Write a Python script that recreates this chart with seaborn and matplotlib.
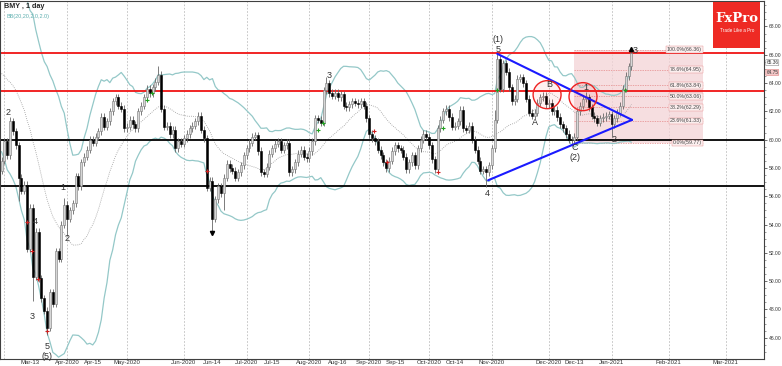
import numpy as np
import pandas as pd
import matplotlib
matplotlib.use("Agg")
import matplotlib.pyplot as plt
import matplotlib.transforms as mtransforms
from matplotlib.patches import Ellipse, Rectangle
import seaborn as sns

# Chart data (daily BMY candles)
symbol = "BMY"
timeframe = "1 day"
first_day = "2020-02-28"
last_axis_day = "2021-03-31"
market_holidays = ["2020-04-10", "2020-05-25", "2020-07-03", "2020-09-07",
                   "2020-11-26", "2020-12-25", "2021-01-01"]

# closes of the weeks before the first visible bar (only feed the bands)
warmup_closes = [63.5, 64.0, 64.8, 65.5, 66.0, 65.8, 66.3, 66.8, 67.0, 67.5,
                 67.3, 67.8, 67.2, 66.5, 65.0, 63.0, 61.5, 60.0, 59.5]

first_open = 57.8
closes = [
    58.5, 59.9, 58.9, 61.3, 60.6, 59.6, 57.3, 56.4, 56.8, 52.3,
    55.2, 50.3, 53.5, 50.2, 48.8, 47.9, 46.7, 49.2, 48.4, 52.1,
    51.6, 54.0, 55.4, 54.4, 55.0, 55.5, 57.4, 56.7, 58.4, 58.8,
    59.3, 60.0, 59.8, 60.2, 60.6, 61.6, 60.9, 61.3, 62.0, 62.7,
    63.0, 62.4, 62.2, 60.8, 60.9, 61.4, 61.1, 60.8, 62.0, 62.4,
    63.0, 63.6, 63.3, 63.7, 64.1, 64.6, 62.2, 60.9, 61.0, 60.4,
    60.7, 59.4, 59.9, 59.7, 60.1, 60.4, 60.8, 61.0, 61.3, 61.7,
    60.7, 60.1, 56.6, 57.1, 54.4, 55.8, 56.7, 56.2, 57.3, 58.3,
    58.0, 57.8, 57.3, 57.7, 58.2, 58.9, 59.4, 59.8, 60.2, 60.3,
    59.2, 57.7, 57.6, 58.1, 59.0, 59.4, 59.7, 59.9, 59.3, 59.6,
    59.8, 57.7, 57.9, 58.4, 59.0, 59.3, 58.8, 58.7, 59.2, 59.9,
    61.5, 61.4, 61.2, 63.5, 64.0, 63.3, 63.1, 63.3, 63.0, 63.2,
    62.4, 62.3, 62.5, 62.7, 62.6, 62.5, 62.7, 62.4, 61.5, 60.4,
    60.1, 59.9, 59.3, 58.9, 58.4, 58.0, 58.5, 59.2, 59.6, 59.4,
    59.3, 58.8, 57.9, 58.4, 58.9, 58.2, 59.4, 60.0, 60.4, 60.2,
    59.6, 58.6, 57.9, 60.8, 61.4, 62.0, 62.2, 61.6, 60.9, 61.0,
    61.3, 62.1, 60.8, 60.7, 61.0, 60.0, 59.3, 58.5, 57.8, 57.9,
    57.7, 58.2, 59.4, 61.4, 65.7, 63.6, 65.4, 64.8, 63.7, 62.7,
    62.9, 64.3, 64.4, 64.0, 62.9, 61.9, 61.7, 61.9, 62.6, 63.0,
    63.1, 62.5, 62.6, 62.0, 62.1, 61.6, 61.1, 60.8, 60.4, 60.0,
    59.95, 60.2, 62.0, 62.4, 62.9, 63.0, 62.3, 61.7, 61.5, 61.2,
    61.5, 61.6, 61.7, 61.8, 61.1, 61.5, 61.9, 62.4, 63.6, 64.5,
    65.2, 66.1,
]
high_marks = {3: 61.6, 22: 55.9, 55: 65.2, 114: 64.4, 161: 62.4, 173: 62.1,
              174: 66.05, 190: 63.4, 205: 63.4, 221: 66.36}
low_marks = {6: 55.7, 11: 48.6, 16: 46.2, 23: 53.2, 74: 53.5, 78: 55.0,
             170: 56.65, 201: 59.77, 214: 60.2}

# horizontal levels
resistance_levels = [66.1, 63.45]
support_levels = [60.0, 56.7]

# triangle (bar index, price)
triangle_upper = [(173.9, 66.07), (221.2, 61.4)]
triangle_lower = [(170.7, 57.13), (221.2, 61.4)]

# circled areas (bar index, price)
circle_centres = [(191.4, 63.18), (204.0, 63.04)]

# fibonacci retracement
fib_low, fib_high = 59.77, 66.36
fib_ratios = [0.0, 23.6, 38.2, 50.0, 61.8, 78.6, 100.0]
fib_span = (201, 246)

# wave labels (text, bar index, price)
wave_labels = [("2", 2.3, 61.9), ("4", 11.8, 54.2), ("3", 10.7, 47.5),
               ("5", 16.0, 45.4), ("(5)", 16.0, 44.7), ("1", 21.6, 56.6),
               ("2", 23.0, 53.0), ("3", 114.9, 64.5), ("(1)", 174.2, 67.1),
               ("5", 174.2, 66.4), ("4", 170.4, 56.2), ("A", 187.2, 61.2),
               ("B", 192.2, 63.9), ("C", 201.2, 59.45), ("(2)", 201.2, 58.75),
               ("1", 205.1, 63.7), ("2", 215.0, 60.0), ("3", 222.3, 66.3)]

red_fractals = [(8.9, 54.2), (10.7, 52.1), (12.8, 50.15), (16.0, 46.5),
                (72.0, 57.8), (130.7, 60.6), (135.3, 58.4), (153.0, 57.7)]
green_fractals = [(51.0, 62.8), (52.8, 63.3), (111.0, 60.7), (112.8, 61.2),
                  (155.0, 60.8), (174.0, 63.5), (218.8, 63.5)]

month_starts = ["2020-04-01", "2020-05-01", "2020-06-01", "2020-07-01",
                "2020-08-01", "2020-09-01", "2020-10-01", "2020-11-01",
                "2020-12-01", "2021-01-01", "2021-02-01", "2021-03-01"]
mid_month_days = ["2020-03-13", "2020-04-15", "2020-06-14", "2020-07-15",
                  "2020-08-16", "2020-09-15", "2020-10-14", "2020-12-13"]

bid_price, ask_label = 65.44, "65.36"
last_price = 64.75

# ------------------------------------------------------------------
n = len(closes)
x = np.arange(n)
c = np.array(closes)
o = np.array([first_open] + closes[:-1])
wick = 0.25
h = np.maximum(o, c) + wick
l = np.minimum(o, c) - wick
for k, v in high_marks.items():
    h[k] = v
for k, v in low_marks.items():
    l[k] = v

s = pd.Series(warmup_closes + closes)
mid = s.rolling(20).mean().to_numpy()[-n:]
sd = s.rolling(20).std(ddof=0).to_numpy()[-n:]
bands = pd.DataFrame({"bar": x, "upper": mid + 2 * sd, "mid": mid, "lower": mid - 2 * sd})

cal = pd.bdate_range(first_day, last_axis_day, freq="C", holidays=market_holidays)
def pos(day):
    return int(cal.searchsorted(pd.Timestamp(day)))

sns.set_style("white")
plt.rcParams["font.family"] = ["Liberation Sans", "DejaVu Sans"]

fig = plt.figure(figsize=(7.82, 3.66), dpi=100)
ax = fig.add_axes([0.0, 7 / 366, 764 / 782, 358 / 366])
ax.set_xlim(-0.53, 267.5)
ax.set_ylim(44.5, 69.8)

# month grid
for d in ["2020-03-01"] + month_starts:
    ax.axvline(pos(d), color="#bdbdbd", lw=0.6, ls=(0, (2, 2)), zorder=0)

# fibonacci box
fx0, fx1 = fib_span
ax.add_patch(Rectangle((fx0, fib_low), fx1 - fx0, fib_high - fib_low,
                       facecolor="#f4d3d6", edgecolor="none", alpha=0.75, zorder=0.5))
for r in fib_ratios:
    lvl = fib_low + (fib_high - fib_low) * r / 100
    ax.plot([fx0, fx1], [lvl, lvl], color="#e58a8a", lw=0.5, ls=(0, (2, 1.5)), zorder=1)
    ax.text(fx1 - 0.3, lvl, f"{r:.1f}%({lvl:.2f})", fontsize=3.8, color="#444444",
            ha="right", va="center", zorder=6,
            bbox=dict(boxstyle="square,pad=0.15", fc="#fbeeee", ec="#e58a8a", lw=0.3))

# bollinger bands
sns.lineplot(data=bands, x="bar", y="upper", color="#94c8c8", lw=0.9, ax=ax, zorder=2)
sns.lineplot(data=bands, x="bar", y="lower", color="#94c8c8", lw=0.9, ax=ax, zorder=2)
sns.lineplot(data=bands, x="bar", y="mid", color="#9a9a9a", lw=0.6, ls=(0, (1, 1.5)), ax=ax, zorder=2)

# levels
for lv in resistance_levels:
    ax.axhline(lv, color="#f01414", lw=1.3, zorder=2.5)
for lv in support_levels:
    ax.axhline(lv, color="black", lw=1.3, zorder=2.5)

# candles
up = c >= o
ax.vlines(x, l, h, color="#666666", lw=0.6, zorder=3)
ax.bar(x[up], np.maximum(c - o, 0.04)[up], bottom=o[up], width=0.7,
       color="#d6d6d6", edgecolor="#777777", linewidth=0.4, zorder=4)
ax.bar(x[~up], (o - c)[~up], bottom=c[~up], width=0.7,
       color="black", edgecolor="black", linewidth=0.4, zorder=4)
ax.plot([74], [l[74] - 0.1], marker="v", color="black", ms=3, zorder=5)
ax.plot([221], [h[221] + 0.05], marker="^", color="black", ms=3, zorder=5)

rf = np.array(red_fractals)
gf = np.array(green_fractals)
ax.plot(rf[:, 0], rf[:, 1], ls="none", marker="+", color="#d02020", ms=3, mew=0.8, zorder=5)
ax.plot(gf[:, 0], gf[:, 1], ls="none", marker="+", color="#20a020", ms=3, mew=0.8, zorder=5)

# triangle and circles
for pts in (triangle_upper, triangle_lower):
    px, py = zip(*pts)
    ax.plot(px, py, color="#1a1aff", lw=1.5, zorder=5)
for cx, cy in circle_centres:
    ax.add_patch(Ellipse((cx, cy), 9.8, 1.98, facecolor=(1, 0, 0, 0.06),
                         edgecolor="#ee2222", lw=1.0, zorder=5))

for t, bx, py in wave_labels:
    ax.text(bx, py, t, fontsize=6.5, color="#333333", ha="center", va="center", zorder=6)

# axes cosmetics
ax.yaxis.tick_right()
ax.set_yticks(np.arange(46, 69, 2))
ax.set_yticks(np.arange(45, 69.6, 0.5), minor=True)
ax.yaxis.set_major_formatter(matplotlib.ticker.FormatStrFormatter("%.2f"))
ax.tick_params(axis="y", which="major", labelsize=3.6, length=2.5, width=0.5, pad=0.8,
               colors="#333333", direction="out")
ax.tick_params(axis="y", which="minor", length=1.5, width=0.4, direction="out", color="#555555")

tick_pos, tick_lab = [], []
for d in month_starts:
    tick_pos.append(pos(d))
    tick_lab.append(pd.Timestamp(d).strftime("%b-%Y"))
for d in mid_month_days:
    tick_pos.append(pos(d))
    tick_lab.append(pd.Timestamp(d).strftime("%b-%d"))
order = np.argsort(tick_pos)
ax.set_xticks([tick_pos[i] for i in order])
ax.set_xticklabels([tick_lab[i] for i in order])
ax.tick_params(axis="x", labelsize=4.3, length=2, width=0.5, pad=0.5, colors="#333333", direction="in")
ax.set_xlabel("")
ax.set_ylabel("")
for sp in ax.spines.values():
    sp.set_color("#404040")
    sp.set_linewidth(0.8)

ax.text(0.005, 0.995, f"{symbol} , {timeframe}", transform=ax.transAxes, fontsize=5.2,
        weight="bold", va="top", ha="left", color="#222222")
ax.text(0.008, 0.965, "BB(20,20,2.0,2.0)", transform=ax.transAxes, fontsize=4.0,
        va="top", ha="left", color="#5fb0b0")

# price boxes on the right scale
trans = mtransforms.blended_transform_factory(ax.transAxes, ax.transData)
ax.text(1.003, bid_price, ask_label, transform=trans, fontsize=3.4, va="center", ha="left",
        color="#333333", clip_on=False,
        bbox=dict(boxstyle="round,pad=0.1", fc="white", ec="#888888", lw=0.4))
ax.text(1.003, last_price, f"{last_price:.2f}", transform=trans, fontsize=3.4, va="center",
        ha="left", color="#333333", clip_on=False,
        bbox=dict(boxstyle="round,pad=0.1", fc="#f3c7c7", ec="#e08080", lw=0.4))

# FxPro badge
fig.patches.append(Rectangle((713 / 782, 1 - 48 / 366), 47 / 782, 46 / 366,
                             transform=fig.transFigure, facecolor="#ee2a24",
                             edgecolor="none", zorder=10))
fig.text(737 / 782, 1 - 19 / 366, "FxPro", color="white", fontsize=9.5, weight="bold",
         family="DejaVu Serif", ha="center", va="center", zorder=11)
fig.text(737 / 782, 1 - 31 / 366, "Trade Like a Pro", color="white", fontsize=3.3,
         ha="center", va="center", zorder=11)

fig.savefig("out.png", dpi=100)
